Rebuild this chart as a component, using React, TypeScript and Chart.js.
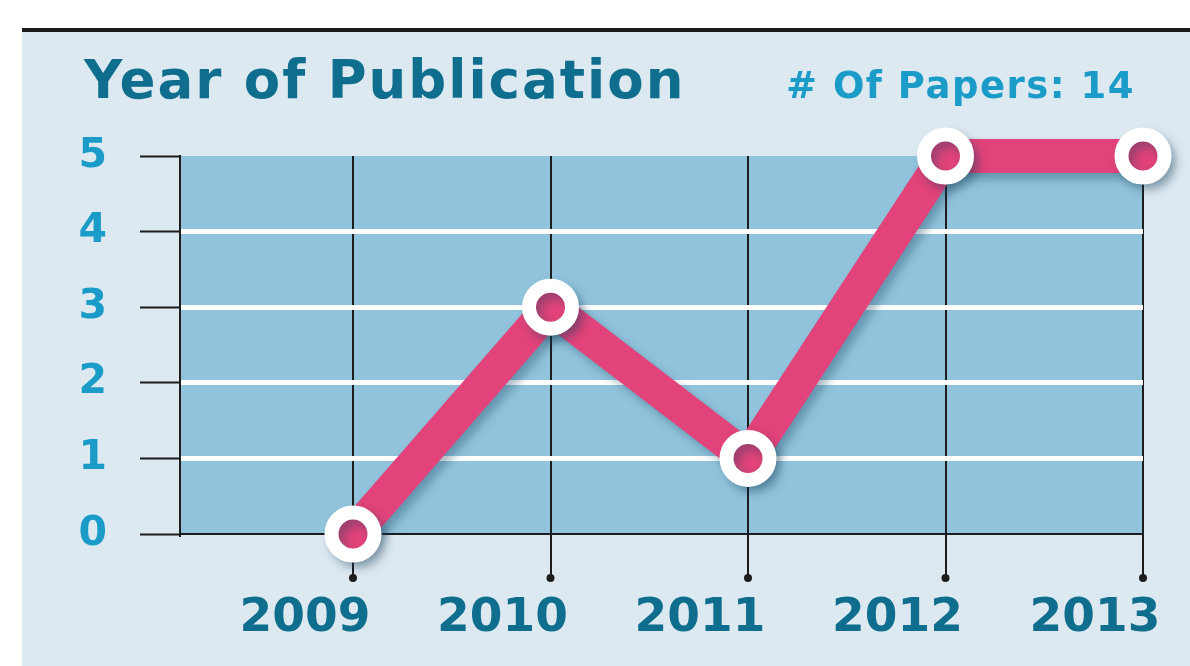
import React, { useEffect, useRef } from "react";
import { Chart, registerables } from "chart.js";

Chart.register(...registerables);

// ---- data ----
const years = [2009, 2010, 2011, 2012, 2013];
const papers = [0, 3, 1, 5, 5];
const yTicks = [0, 1, 2, 3, 4, 5];
const titleText = "Year of Publication";
const countText = "# Of Papers: 14";

// ---- style ----
const PINK = "#e1437a";
const TEAL = "#0f6d8e";
const CYAN = "#1a9bc8";
const PANEL_BG = "#dde9f1";
const PLOT_BG = "#91c4dc";
const DARK = "#1d1d1d";
const X_TICK_LEN = 44;

const plotBgPlugin = {
  id: "plotBg",
  beforeDraw(chart: any) {
    const { ctx, chartArea: a } = chart;
    ctx.save();
    ctx.fillStyle = PLOT_BG;
    ctx.fillRect(a.left, a.top, a.right - a.left, a.bottom - a.top);
    ctx.restore();
  },
};

const shadowPlugin = {
  id: "lineShadow",
  beforeDatasetsDraw(chart: any) {
    const ctx = chart.ctx;
    ctx.save();
    ctx.shadowColor = "rgba(20,60,90,0.35)";
    ctx.shadowBlur = 10;
    ctx.shadowOffsetX = 5;
    ctx.shadowOffsetY = 6;
  },
  afterDatasetsDraw(chart: any) {
    chart.ctx.restore();
  },
};

const dotsPlugin = {
  id: "tickDots",
  afterDraw(chart: any) {
    const xs = chart.scales.x;
    const ctx = chart.ctx;
    const y = chart.chartArea.bottom + X_TICK_LEN;
    ctx.save();
    ctx.fillStyle = DARK;
    years.forEach((v) => {
      ctx.beginPath();
      ctx.arc(xs.getPixelForValue(v), y, 4, 0, Math.PI * 2);
      ctx.fill();
    });
    ctx.restore();
  },
};

export default function App() {
  const canvasRef = useRef<HTMLCanvasElement | null>(null);

  useEffect(() => {
    if (!canvasRef.current) return;
    const chart = new Chart(canvasRef.current, {
      type: "line",
      data: {
        datasets: [
          {
            data: years.map((x, i) => ({ x, y: papers[i] })),
            borderColor: PINK,
            borderWidth: 34,
            pointRadius: 21.5,
            pointHoverRadius: 21.5,
            pointBorderWidth: 14,
            pointBackgroundColor: PINK,
            pointBorderColor: "#ffffff",
            clip: false,
            tension: 0,
            fill: false,
            borderJoinStyle: "round",
          } as any,
        ],
      },
      options: {
        responsive: false,
        animation: false,
        devicePixelRatio: 1,
        events: [],
        layout: { padding: { top: 156, right: 47, left: 0, bottom: 0 } },
        plugins: {
          legend: { display: false },
          tooltip: { enabled: false },
        },
        scales: {
          x: {
            type: "linear",
            min: 2008.124,
            max: 2013,
            bounds: "data",
            afterBuildTicks: (s: any) => {
              s.ticks = years.map((v) => ({ value: v }));
            },
            afterFit: (s: any) => {
              s.height = 132;
              s.paddingLeft = 0;
              s.paddingRight = 0;
            },
            ticks: {
              autoSkip: false,
              maxRotation: 0,
              minRotation: 0,
              labelOffset: -48,
              padding: 13,
              color: TEAL,
              font: { family: "DejaVu Sans", weight: "bold", size: 47 },
              callback: (v: any) => String(v),
            },
            grid: {
              color: DARK,
              lineWidth: 2,
              tickLength: X_TICK_LEN,
              tickColor: DARK,
              tickWidth: 2,
              drawOnChartArea: true,
              drawTicks: true,
            },
            border: { display: true, color: DARK, width: 2 },
          },
          y: {
            type: "linear",
            min: 0,
            max: 5,
            z: -1,
            afterBuildTicks: (s: any) => {
              s.ticks = yTicks.map((v) => ({ value: v }));
            },
            afterFit: (s: any) => {
              s.width = 180;
            },
            ticks: {
              padding: 33,
              color: CYAN,
              font: { family: "DejaVu Sans", weight: "bold", size: 41 },
              callback: (v: any) => String(v),
            },
            grid: {
              color: (c: any) =>
                c.tick && c.tick.value > 0 && c.tick.value < 5 ? "#ffffff" : "rgba(0,0,0,0)",
              lineWidth: 5,
              tickColor: DARK,
              tickWidth: 2,
              tickLength: 40,
            },
            border: { display: true, color: DARK, width: 2 },
          },
        } as any,
      },
      plugins: [plotBgPlugin, shadowPlugin, dotsPlugin],
    } as any);
    return () => chart.destroy();
  }, []);

  return (
    <div
      style={{
        position: "absolute",
        left: 0,
        top: 0,
        width: 1190,
        height: 666,
        overflow: "hidden",
        background: "#ffffff",
      }}
    >
      <div
        style={{
          position: "absolute",
          left: 22,
          top: 28,
          width: 1168,
          height: 4,
          background: "#1b1b1b",
        }}
      />
      <div
        style={{
          position: "absolute",
          left: 22,
          top: 32,
          right: 0,
          bottom: 0,
          background: PANEL_BG,
        }}
      />
      <canvas
        ref={canvasRef}
        width={1190}
        height={666}
        style={{ position: "absolute", left: 0, top: 0, width: 1190, height: 666 }}
      />
      <div
        style={{
          position: "absolute",
          left: 84,
          top: 53,
          fontFamily: "'DejaVu Sans', sans-serif",
          fontWeight: "bold",
          fontSize: 53,
          lineHeight: "53px",
          letterSpacing: "2px",
          color: TEAL,
          whiteSpace: "nowrap",
        }}
      >
        {titleText}
      </div>
      <div
        style={{
          position: "absolute",
          left: 786,
          top: 67,
          fontFamily: "'DejaVu Sans', sans-serif",
          fontWeight: "bold",
          fontSize: 37,
          lineHeight: "37px",
          letterSpacing: "1.5px",
          color: CYAN,
          whiteSpace: "nowrap",
        }}
      >
        {countText}
      </div>
    </div>
  );
}
